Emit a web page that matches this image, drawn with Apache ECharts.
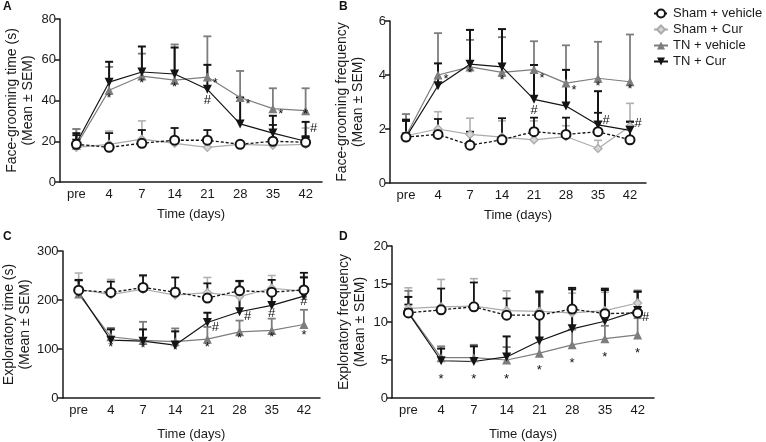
<!DOCTYPE html>
<html><head><meta charset="utf-8">
<script src="https://cdn.jsdelivr.net/npm/echarts@6/dist/echarts.min.js"></script>
<style>html,body{margin:0;padding:0;background:#fff}#c{width:766px;height:442px}</style>
</head><body><div id="c"></div>
<script>
const categories = ['pre','4','7','14','21','28','35','42'];
const seriesNames = ['Sham + vehicle','Sham + Cur','TN + vehicle','TN + Cur'];

// Panel A: face-grooming time (s) — means and SEM
const shamVehA = [18.5, 17, 19, 20.5, 20.5, 18.5, 20, 19.5];
const shamVehAErr = [5.5, 7, 6.5, 6, 5, 1, 8, 3];
const shamCurA = [17, 18.5, 21, 19, 17, 18.5, 18, 18.5];
const shamCurAErr = [9, 6.5, 9, 3, 3, 1.5, 3, 8];
const tnVehA = [18, 45, 52, 50, 51.5, 41.5, 36, 35];
const tnVehAErr = [8, 11.5, 11, 17.5, 20, 13, 10, 11];
const tnCurA = [19, 49, 54, 53, 45.5, 28.5, 24, 20];
const tnCurAErr = [4, 10, 12.5, 13, 12, 13, 8.5, 9.5];
const marksA = [['4',41,'*'],['7',48.5,'*'],['14',46.6,'*'],['21',40,'#'],['42',33,'*']];
const marksRightA = [['21',48.5,'*'],['28',38,'*'],['35',33,'*'],['42',26.5,'#']];

// Panel B: face-grooming frequency
const shamVehB = [1.7, 1.8, 1.4, 1.6, 1.9, 1.8, 1.9, 1.6];
const shamVehBErr = [0.65, 0.57, 0.5, 0.8, 0.52, 0.62, 0.7, 0.67];
const shamCurB = [1.75, 2.0, 1.8, 1.7, 1.6, 1.72, 1.28, 2.1];
const shamCurBErr = [0.8, 0.64, 0.6, 0.6, 0.7, 0.4, 0.3, 0.85];
const tnVehB = [1.75, 4.0, 4.3, 4.1, 4.2, 3.7, 3.88, 3.75];
const tnVehBErr = [0.8, 1.55, 1.0, 1.3, 1.05, 1.4, 1.35, 1.75];
const tnCurB = [1.7, 3.6, 4.4, 4.3, 3.1, 2.85, 2.15, 1.95];
const tnCurBErr = [0.6, 0.83, 1.27, 1.4, 1.27, 1.34, 1.25, 0.32];
const marksB = [['7',4.04,'*'],['14',3.81,'*'],['21',2.7,'#'],['35',3.57,'*'],['42',3.48,'*']];
const marksRightB = [['4',3.85,'*'],['21',3.88,'*'],['28',3.42,'*'],['35',2.33,'#'],['42',2.2,'#']];

// Panel C: exploratory time (s)
const shamVehC = [220, 215.5, 225.5, 216, 204, 219, 216, 220.5];
const shamVehCErr = [20, 22, 25, 30, 30, 20, 25, 35];
const shamCurC = [222, 211, 222, 210, 215, 207, 224, 218];
const shamCurCErr = [33, 31, 26, 15, 31, 30, 26, 30];
const tnVehC = [212, 125, 117.5, 115, 120, 135, 138, 150];
const tnVehCErr = [8, 18, 38, 27, 25, 23, 24, 30];
const tnCurC = [216, 118, 116, 108, 154, 176, 189, 208];
const tnCurCErr = [25, 22, 24, 28, 20, 63, 28, 38];
const marksC = [['4',103,'*'],['7',101,'*'],['14',98,'*'],['21',104,'*'],['28',122,'*'],['35',124,'*'],['42',128,'*'],['42',197,'#'],['35',172,'#']];
const marksRightC = [['21',145,'#'],['28',167,'#']];

// Panel D: exploratory frequency
const shamVehD = [11.2, 11.6, 12.0, 10.9, 10.9, 11.7, 11.1, 11.2];
const shamVehDErr = [1.1, 2.8, 3.2, 2.2, 3.1, 2.8, 3.3, 2.8];
const shamCurD = [11.8, 12.0, 12.1, 11.5, 11.4, 11.2, 11.5, 12.5];
const shamCurDErr = [2.7, 3.6, 3.6, 2.6, 2.4, 2.6, 2.4, 1.7];
const tnVehD = [11.3, 5.3, 5.3, 5.0, 5.9, 7.0, 7.8, 8.3];
const tnVehDErr = [2.8, 1.5, 1.7, 1.7, 2.0, 2.0, 1.7, 2.2];
const tnCurD = [11.2, 4.9, 4.8, 5.4, 7.5, 9.1, 10.1, 11.5];
const tnCurDErr = [2.1, 1.6, 2.0, 2.7, 6.5, 5.2, 4.1, 2.5];
const marksD = [['4',2.5,'*'],['7',2.5,'*'],['14',2.5,'*'],['21',3.6,'*'],['28',4.5,'*'],['35',5.3,'*'],['42',5.8,'*']];
const marksRightD = [['42',10.6,'#']];

const yTitles = ['Face-grooming time (s)\n(Mean ± SEM)','Face-grooming frequency\n(Mean ± SEM)','Exploratory time (s)\n(Mean ± SEM)','Exploratory frequency\n(Mean ± SEM)'];
const yMax = [80, 6, 300, 20];
const yInterval = [20, 2, 100, 5];
const xTitle = 'Time (days)';
const panelLetters = ['A','B','C','D'];

const FONT = '"Liberation Sans", Arial, sans-serif';
const grids = [
  {left:60, top:19, width:262, height:163},
  {left:390, top:21, width:256, height:162},
  {left:60, top:251, width:260, height:148},
  {left:392, top:246, width:262, height:154}
];
const xNameGap = [26, 26, 30, 30];

const panels = [
  {vals:[shamVehA, shamCurA, tnVehA, tnCurA], errs:[shamVehAErr, shamCurAErr, tnVehAErr, tnCurAErr], marks:marksA, marksR:marksRightA},
  {vals:[shamVehB, shamCurB, tnVehB, tnCurB], errs:[shamVehBErr, shamCurBErr, tnVehBErr, tnCurBErr], marks:marksB, marksR:marksRightB},
  {vals:[shamVehC, shamCurC, tnVehC, tnCurC], errs:[shamVehCErr, shamCurCErr, tnVehCErr, tnCurCErr], marks:marksC, marksR:marksRightC},
  {vals:[shamVehD, shamCurD, tnVehD, tnCurD], errs:[shamVehDErr, shamCurDErr, tnVehDErr, tnCurDErr], marks:marksD, marksR:marksRightD}
];

const styles = [
  {line:'#141414', type:[3,2], lw:1.3, symbol:'circle', size:9, fill:'#ffffff', border:'#141414', bw:2, rot:0, err:'#141414', ew:1.8},
  {line:'#ababab', type:'solid', lw:1.2, symbol:'diamond', size:8, fill:'#d6d6d6', border:'#ababab', bw:1.3, rot:0, err:'#b0b0b0', ew:1.6},
  {line:'#7d7d7d', type:'solid', lw:1.2, symbol:'triangle', size:9, fill:'#7d7d7d', border:'#7d7d7d', bw:0, rot:0, err:'#7d7d7d', ew:1.8},
  {line:'#141414', type:'solid', lw:1.2, symbol:'triangle', size:9, fill:'#141414', border:'#141414', bw:0, rot:180, err:'#141414', ew:2}
];
const drawOrder = [1, 2, 3, 0];

function errRender(color, width) {
  return function (params, api) {
    const x = api.value(0), m = api.value(1), e = api.value(2);
    const p0 = api.coord([x, m]);
    const p1 = api.coord([x, m + e]);
    return {type:'group', children:[
      {type:'line', shape:{x1:p0[0], y1:p0[1], x2:p1[0], y2:p1[1]}, style:{stroke:color, lineWidth:width}},
      {type:'line', shape:{x1:p1[0]-4, y1:p1[1], x2:p1[0]+4, y2:p1[1]}, style:{stroke:color, lineWidth:width}}
    ]};
  };
}

const markLabel = {show:true, position:'inside', formatter:q => q.data[2], fontSize:13, color:'#111111',
  textBorderWidth:0, opacity:1, fontFamily:FONT};

const xAxes = [], yAxes = [], series = [];
panels.forEach((p, i) => {
  xAxes.push({
    type:'category', gridIndex:i, data:categories, boundaryGap:true,
    name:xTitle, nameLocation:'middle', nameGap:xNameGap[i],
    nameTextStyle:{fontSize:13, color:'#1a1a1a', fontFamily:FONT},
    axisLine:{lineStyle:{color:'#1a1a1a', width:1.5}},
    axisTick:{alignWithLabel:true, length:5, lineStyle:{color:'#1a1a1a', width:1.5}},
    axisLabel:{fontSize:13, color:'#1a1a1a', fontFamily:FONT, margin:6}
  });
  yAxes.push({
    type:'value', gridIndex:i, min:0, max:yMax[i], interval:yInterval[i],
    name:yTitles[i], nameLocation:'middle', nameGap:24, nameRotate:90,
    nameTextStyle:{fontSize:14, color:'#1a1a1a', fontFamily:FONT, lineHeight:16},
    axisLine:{show:true, lineStyle:{color:'#1a1a1a', width:1.5}},
    axisTick:{show:true, length:5, lineStyle:{color:'#1a1a1a', width:1.5}},
    axisLabel:{fontSize:13, color:'#1a1a1a', fontFamily:FONT, margin:4},
    splitLine:{show:false}
  });
  drawOrder.forEach(k => {
    const s = styles[k];
    series.push({
      type:'custom', xAxisIndex:i, yAxisIndex:i,
      renderItem:errRender(s.err, s.ew), encode:{x:0, y:1}, silent:true, z:1,
      data:p.vals[k].map((v, j) => [j, v, p.errs[k][j]])
    });
  });
  drawOrder.forEach(k => {
    const s = styles[k];
    series.push({
      type:'line', name:seriesNames[k], xAxisIndex:i, yAxisIndex:i, z:3,
      data:p.vals[k], symbol:s.symbol, symbolSize:s.size, symbolRotate:s.rot,
      showAllSymbol:true, animation:false,
      lineStyle:{color:s.line, width:s.lw, type:s.type},
      itemStyle:{color:s.fill, borderColor:s.border, borderWidth:s.bw}
    });
  });
  series.push({
    type:'scatter', xAxisIndex:i, yAxisIndex:i, symbolSize:0.01, silent:true, z:4,
    itemStyle:{color:'#111111', opacity:1},
    data:p.marks,
    label:markLabel
  });
  series.push({
    type:'scatter', xAxisIndex:i, yAxisIndex:i, symbolSize:0.01, silent:true, z:4,
    itemStyle:{color:'#111111', opacity:1},
    data:p.marksR,
    label:Object.assign({}, markLabel, {offset:[8,0]})
  });
});

const letterPos = [[3,1],[339,1],[3,231],[339,231]];
const chart = echarts.init(document.getElementById('c'), null, {renderer:'canvas'});
chart.setOption({
  animation:false,
  backgroundColor:'#ffffff',
  grid:grids,
  xAxis:xAxes,
  yAxis:yAxes,
  legend:{
    data:seriesNames, orient:'vertical', left:648, top:2,
    itemWidth:14, itemHeight:10, itemGap:3,
    textStyle:{fontSize:13, color:'#1a1a1a', fontFamily:FONT}
  },
  graphic:panelLetters.map((t, i) => ({
    type:'text', left:letterPos[i][0], top:letterPos[i][1],
    style:{text:t, font:'bold 12px ' + FONT, fill:'#111'}
  })),
  series:series
});
</script></body></html>
